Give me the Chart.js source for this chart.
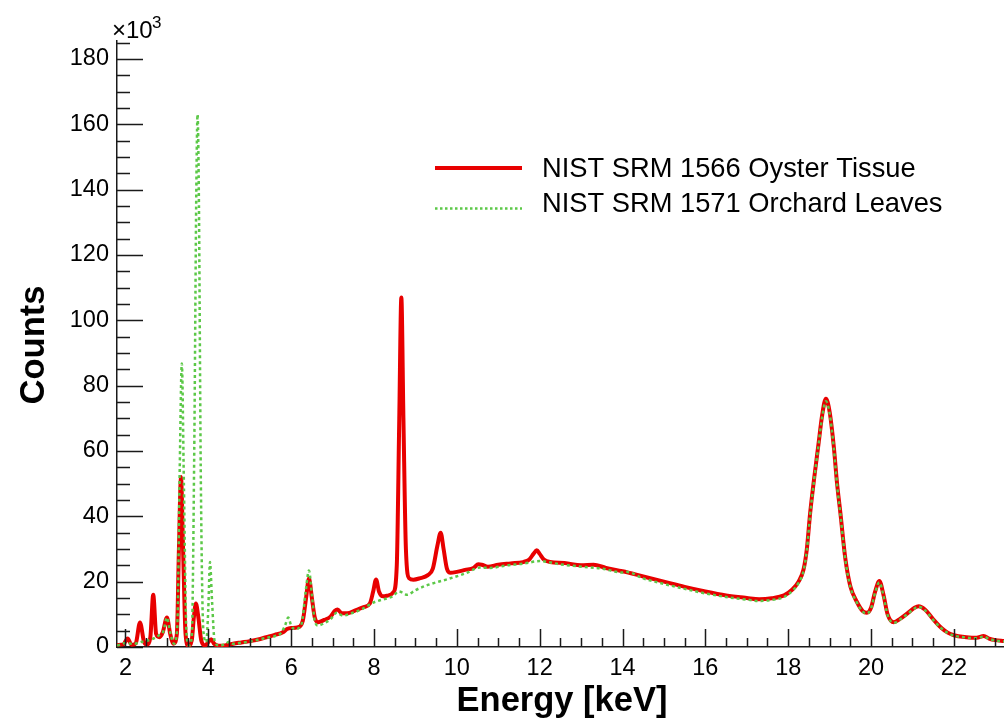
<!DOCTYPE html>
<html>
<head>
<meta charset="utf-8">
<script src="https://cdn.jsdelivr.net/npm/chart.js@4"></script>
<style>
  body { margin: 0; background: #fff; }
</style>
</head>
<body>
<canvas id="spectrum" width="1004" height="720"></canvas>
<script>
// counts are in thousands (axis says x10^3)
const oysterEnergy = [
  1.80, 1.95, 2.05, 2.15, 2.25, 2.35, 2.45, 2.52, 2.60, 2.67, 2.74, 2.82, 2.90, 3.00, 3.08, 3.16,
  3.24, 3.29, 3.34, 3.39, 3.45, 3.52, 3.60, 3.65, 3.70, 3.76, 3.83, 3.92, 4.00, 4.07, 4.14, 4.25,
  4.40, 4.60, 4.80, 5.00, 5.20, 5.40, 5.60, 5.80, 5.90, 6.00, 6.15, 6.28, 6.36, 6.43, 6.50, 6.57,
  6.65, 6.80, 6.95, 7.05, 7.12, 7.22, 7.35, 7.55, 7.75, 7.90, 7.98, 8.05, 8.12, 8.22, 8.35, 8.47,
  8.55, 8.61, 8.66, 8.71, 8.77, 8.85, 8.95, 9.10, 9.30, 9.42, 9.53, 9.61, 9.68, 9.76, 9.85, 10.0,
  10.2, 10.4, 10.52, 10.6, 10.75, 11.0, 11.3, 11.6, 11.75, 11.85, 11.93, 12.0, 12.1, 12.25, 12.6, 13.0,
  13.3, 13.6, 14.0, 14.5, 15.0, 15.5, 16.0, 16.5, 17.0, 17.3, 17.6, 17.9, 18.1, 18.25, 18.37, 18.45,
  18.53, 18.63, 18.73, 18.82, 18.91, 19.0, 19.1, 19.18, 19.26, 19.38, 19.5, 19.65, 19.8, 19.9, 20.0, 20.1,
  20.2, 20.3, 20.4, 20.55, 20.7, 20.9, 21.05, 21.15, 21.3, 21.5, 21.7, 21.85, 22.0, 22.3, 22.55, 22.72,
  22.85, 23.0, 23.21
];
const oysterCounts = [
  0.6, 0.8, 2.6, 0.6, 1.2, 7.5, 1.5, 0.8, 3.0, 16.0, 4.0, 3.0, 4.5, 9.0, 4.0, 1.0,
  4.0, 30.0, 52.0, 30.0, 4.0, 0.3, 2.0, 9.0, 13.3, 9.0, 2.0, 0.5, 1.5, 2.4, 1.0, 0.4,
  0.5, 1.0, 1.4, 1.8, 2.3, 3.0, 3.7, 4.5, 5.5, 5.8, 6.0, 8.0, 15.0, 21.0, 15.0, 9.0,
  7.6, 8.3, 9.3, 11.0, 11.5, 10.3, 10.3, 11.2, 12.2, 13.3, 17.0, 20.7, 17.0, 15.5, 15.8, 16.8,
  25.0, 70.0, 107.0, 70.0, 30.0, 21.0, 20.6, 21.0, 22.0, 24.0, 31.0, 35.0, 30.0, 24.0, 22.7, 23.0,
  23.6, 24.2, 25.3, 25.2, 24.6, 25.2, 25.6, 26.0, 26.8, 28.5, 29.6, 28.5, 26.8, 26.0, 25.7, 25.0,
  25.2, 24.2, 23.2, 21.6, 20.0, 18.4, 17.0, 15.8, 15.0, 14.6, 14.9, 15.8, 17.6, 20.0, 23.7, 30.0,
  41.0, 52.0, 62.0, 71.0, 76.0, 72.0, 61.4, 50.0, 41.0, 27.0, 18.6, 14.0, 11.0, 10.5, 12.0, 17.0,
  20.2, 16.0, 10.0, 7.6, 8.6, 10.5, 12.0, 12.5, 11.5, 8.5, 5.8, 4.4, 3.6, 3.0, 2.8, 3.4,
  2.6, 2.1, 1.8
];

const orchardEnergy = [
  1.80, 2.00, 2.20, 2.40, 2.60, 2.80, 2.92, 3.00, 3.08, 3.17, 3.25, 3.31, 3.36, 3.41, 3.47, 3.53,
  3.60, 3.66, 3.71, 3.74, 3.77, 3.82, 3.88, 3.95, 4.00, 4.04, 4.09, 4.15, 4.25, 4.40, 4.50, 4.60,
  4.80, 5.00, 5.20, 5.40, 5.60, 5.75, 5.85, 5.93, 6.00, 6.10, 6.25, 6.35, 6.43, 6.50, 6.57, 6.65,
  6.80, 6.95, 7.10, 7.25, 7.45, 7.70, 7.98, 8.20, 8.45, 8.60, 8.68, 8.80, 9.00, 9.30, 9.76, 10.2,
  10.56, 10.8, 11.2, 11.6, 12.0, 12.5, 13.0, 13.5, 14.0, 14.1, 14.5, 15.0, 15.5, 16.0, 16.5, 17.0,
  17.3, 17.6, 17.9, 18.1, 18.25, 18.37, 18.45, 18.53, 18.63, 18.73, 18.82, 18.91, 19.0, 19.1, 19.18, 19.26,
  19.38, 19.5, 19.65, 19.8, 19.9, 20.0, 20.1, 20.2, 20.3, 20.4, 20.55, 20.7, 20.9, 21.05, 21.15, 21.3,
  21.5, 21.7, 21.85, 22.0, 22.3, 22.55, 22.72, 22.85, 23.0, 23.21
];
const orchardCounts = [
  0.4, 1.2, 1.0, 1.6, 2.2, 3.5, 5.0, 9.0, 4.5, 1.0, 6.0, 55.0, 86.8, 50.0, 5.0, 0.5,
  3.0, 60.0, 140.0, 163.0, 140.0, 50.0, 5.0, 1.5, 12.0, 26.0, 14.0, 2.0, 0.5, 0.8, 1.6, 1.0,
  1.3, 1.7, 2.2, 2.8, 3.3, 4.2, 6.5, 9.0, 6.5, 5.5, 7.0, 17.0, 23.4, 16.0, 8.0, 6.6,
  7.3, 8.5, 10.5, 9.6, 10.3, 11.5, 13.6, 14.5, 15.5, 17.0, 16.7, 16.0, 17.4, 19.0, 20.7, 22.5,
  24.3, 24.2, 25.0, 25.5, 26.3, 25.3, 24.6, 24.0, 22.8, 23.0, 21.0, 19.3, 17.8, 16.4, 15.3, 14.5,
  14.1, 14.4, 15.3, 17.2, 19.6, 23.3, 29.6, 40.6, 51.6, 61.6, 70.4, 75.2, 71.5, 61.0, 49.6, 40.6,
  26.7, 18.4, 13.8, 10.8, 10.3, 11.8, 16.7, 19.8, 15.7, 9.8, 7.4, 8.4, 10.3, 11.8, 12.3, 11.3,
  8.3, 5.7, 4.3, 3.5, 2.9, 2.7, 3.2, 2.5, 2.0, 1.7
];

const energyTicks = [2, 4, 6, 8, 10, 12, 14, 16, 18, 20, 22];
const countTicks = [0, 20, 40, 60, 80, 100, 120, 140, 160, 180];

const oysterColor = 'rgb(232, 0, 0)';
const orchardColor = 'rgb(92, 200, 72)';
const fontFamily = '"Liberation Sans", Arial, Helvetica, sans-serif';

function toPoints(xs, ys) {
  return xs.map((x, i) => ({ x: x, y: ys[i] }));
}

// ROOT style frame: ticks inside, titles, x10^3 and legend box
const frameExtras = {
  id: 'frameExtras',
  afterDraw(chart) {
    const ctx = chart.ctx;
    const xs = chart.scales.x;
    const ys = chart.scales.y;
    const area = chart.chartArea;
    ctx.save();

    ctx.strokeStyle = '#1a1a1a';
    ctx.lineWidth = 1.5;
    ctx.beginPath();
    for (let v = 0; v <= 185; v += 5) {
      const py = Math.round(ys.getPixelForValue(v)) + 0.5;
      const len = v % 20 === 0 ? 26 : 13;
      ctx.moveTo(area.left, py);
      ctx.lineTo(area.left + len, py);
    }
    for (let v = 2; v <= 23.2; v += 0.5) {
      const px = Math.round(xs.getPixelForValue(v)) + 0.5;
      const len = v % 2 === 0 ? 18 : 9;
      ctx.moveTo(px, area.bottom);
      ctx.lineTo(px, area.bottom - len);
    }
    ctx.stroke();

    ctx.fillStyle = '#000';
    ctx.textBaseline = 'alphabetic';

    // multiplier
    ctx.textAlign = 'left';
    ctx.font = '24px ' + fontFamily;
    ctx.fillText('\u00d710', 112, 38);
    ctx.font = '17px ' + fontFamily;
    ctx.fillText('3', 152, 28);

    // axis titles
    ctx.font = 'bold 34.5px ' + fontFamily;
    ctx.textAlign = 'center';
    ctx.fillText('Energy [keV]', 562, 711);
    ctx.save();
    ctx.translate(44, 345);
    ctx.rotate(-Math.PI / 2);
    ctx.fillText('Counts', 0, 0);
    ctx.restore();

    // legend
    ctx.lineWidth = 4;
    ctx.strokeStyle = oysterColor;
    ctx.beginPath();
    ctx.moveTo(435, 168);
    ctx.lineTo(522, 168);
    ctx.stroke();
    ctx.lineWidth = 2.5;
    ctx.strokeStyle = orchardColor;
    ctx.setLineDash([2.5, 2.5]);
    ctx.beginPath();
    ctx.moveTo(435, 208.5);
    ctx.lineTo(522, 208.5);
    ctx.stroke();
    ctx.setLineDash([]);

    ctx.textAlign = 'left';
    ctx.font = '27.3px ' + fontFamily;
    ctx.fillText('NIST SRM 1566 Oyster Tissue', 542, 177);
    ctx.fillText('NIST SRM 1571 Orchard Leaves', 542, 212);

    ctx.restore();
  }
};

const ctx = document.getElementById('spectrum').getContext('2d');
let spectrum = new Chart(ctx, {
  type: 'line',
  data: {
    datasets: [
      {
        label: 'NIST SRM 1566 Oyster Tissue',
        data: toPoints(oysterEnergy, oysterCounts),
        borderColor: oysterColor,
        borderWidth: 4,
        pointRadius: 0,
        fill: false,
        cubicInterpolationMode: 'monotone',
        order: 2
      },
      {
        label: 'NIST SRM 1571 Orchard Leaves',
        data: toPoints(orchardEnergy, orchardCounts),
        borderColor: orchardColor,
        borderWidth: 2.5,
        borderDash: [3, 3],
        pointRadius: 0,
        fill: false,
        cubicInterpolationMode: 'monotone',
        order: 1
      }
    ]
  },
  options: {
    responsive: false,
    animation: false,
    events: [],
    layout: { padding: { top: 41, left: 0, right: 0, bottom: 0 } },
    plugins: {
      legend: { display: false },
      tooltip: { enabled: false }
    },
    scales: {
      x: {
        type: 'linear',
        min: 1.795,
        max: 23.21,
        afterBuildTicks: s => { s.ticks = energyTicks.map(v => ({ value: v })); },
        afterFit: s => { s.height = 73; },
        grid: { display: false, drawTicks: false },
        border: { display: true, color: '#1a1a1a', width: 1.5 },
        ticks: {
          padding: 7,
          maxRotation: 0,
          color: '#000',
          font: { family: fontFamily, size: 23.5 }
        }
      },
      y: {
        type: 'linear',
        min: 0,
        max: 185.5,
        afterBuildTicks: s => { s.ticks = countTicks.map(v => ({ value: v })); },
        afterFit: s => { s.width = 117; },
        grid: { display: false, drawTicks: false },
        border: { display: true, color: '#1a1a1a', width: 1.5 },
        ticks: {
          padding: 8,
          color: '#000',
          font: { family: fontFamily, size: 23.5 }
        }
      }
    }
  },
  plugins: [frameExtras]
});
</script>
</body>
</html>
